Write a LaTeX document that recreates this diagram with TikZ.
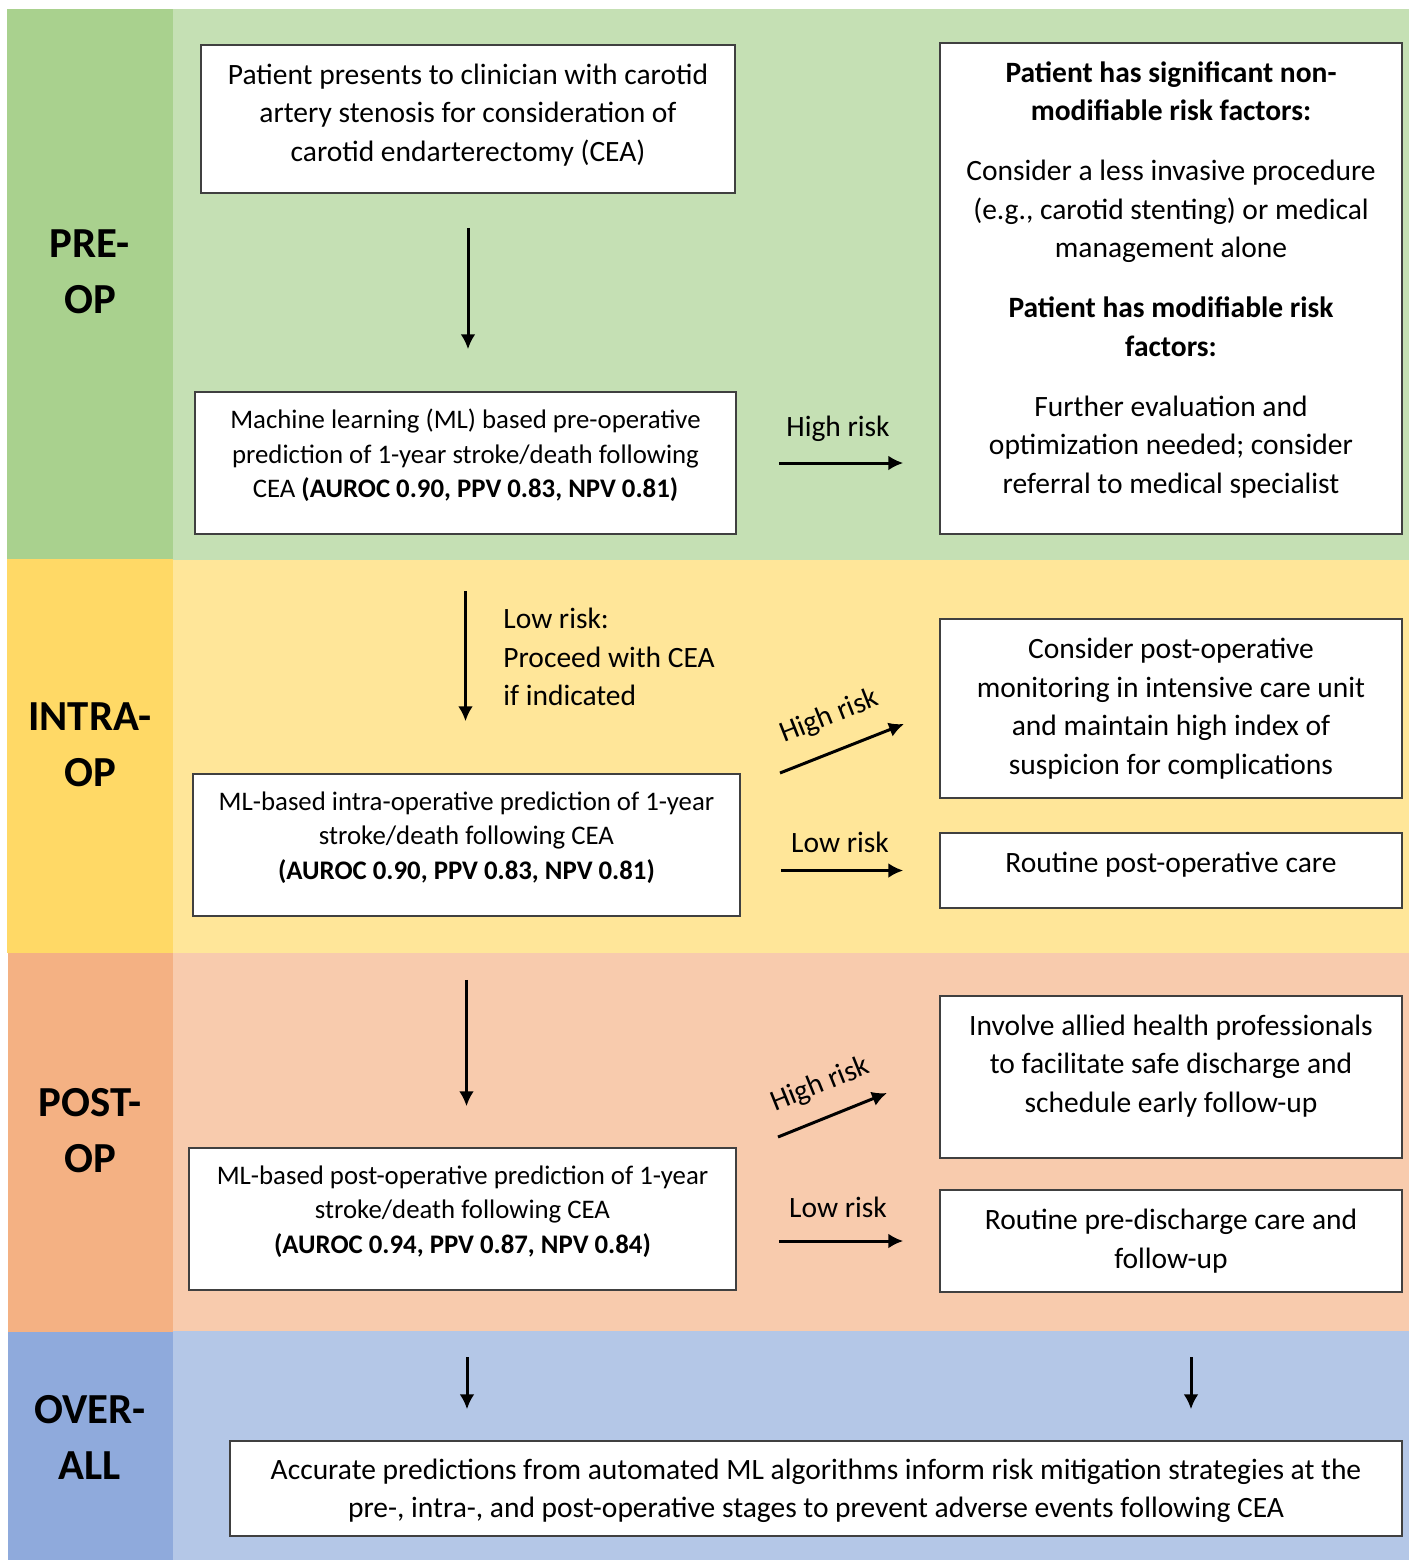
\documentclass[tikz,border=0pt]{standalone}
\usepackage{fontspec}
\setmainfont{Carlito}
\usetikzlibrary{arrows.meta}
\usetikzlibrary{positioning}

\definecolor{preDark}{HTML}{A9D18E}
\definecolor{preLight}{HTML}{C5E0B4}
\definecolor{intraDark}{HTML}{FFD966}
\definecolor{intraLight}{HTML}{FFE699}
\definecolor{postDark}{HTML}{F4B183}
\definecolor{postLight}{HTML}{F8CBAD}
\definecolor{allDark}{HTML}{8FAADC}
\definecolor{allLight}{HTML}{B4C7E7}
\definecolor{boxline}{HTML}{404040}

\tikzset{
  box/.style={draw=boxline, line width=0.75pt, fill=white, align=center, inner sep=0pt,
    font=\fontsize{14.75}{19.25}\selectfont},
  mlbox/.style={box, font=\fontsize{13.4}{17.25}\selectfont},
  stage/.style={align=center, inner sep=0pt, font=\fontsize{21.4}{28}\selectfont\bfseries},
  risk/.style={inner sep=0pt, font=\fontsize{14.75}{19.25}\selectfont},
  flow/.style={-{Latex[length=7.5pt,width=7.5pt]}, line width=1.5pt},
  lift/.style={text depth=#1},
}

\begin{document}
\begin{tikzpicture}[x=0.5pt, y=-0.5pt]
  \useasboundingbox (0,0) rectangle (1409,1560);
  \fill[white] (0,0) rectangle (1409,1560);

  % stage bands
  \fill[preDark] (7,9) rectangle (173,559);
  \fill[preLight] (173,9) rectangle (1409,560);
  \fill[intraDark] (7,559) rectangle (173,953);
  \fill[intraLight] (173,560) rectangle (1409,953);
  \fill[postDark] (8,953) rectangle (173,1332);
  \fill[postLight] (173,953) rectangle (1409,1332);
  \fill[allDark] (8,1332) rectangle (173,1560);
  \fill[allLight] (173,1331) rectangle (1409,1560);

  \node[stage] (preop) at (90,272) {PRE-\\OP};
  \node[stage] (intraop) at (90,745) {INTRA-\\OP};
  \node[stage] (postop) at (90,1131) {POST-\\OP};
  \node[stage] (overall) at (90,1437) {OVER-\\ALL};

  % left column
  \node[box, lift=6.5pt, minimum width=267pt, minimum height=74pt] (present) at (468,119)
    {Patient presents to clinician with carotid\\artery stenosis for consideration of\\carotid endarterectomy (CEA)};
  \node[mlbox, lift=9.5pt, minimum width=270.5pt, minimum height=71pt] (mlpre) at (465.5,463)
    {Machine learning (ML) based pre-operative\\prediction of 1-year stroke/death following\\CEA \textbf{(AUROC 0.90, PPV 0.83, NPV 0.81)}};
  \node[mlbox, lift=9.5pt, minimum width=273.5pt, minimum height=71pt] (mlintra) at (466.5,845)
    {ML-based intra-operative prediction of 1-year\\stroke/death following CEA\\\textbf{(AUROC 0.90, PPV 0.83, NPV 0.81)}};
  \node[mlbox, lift=9.5pt, minimum width=273.5pt, minimum height=71pt] (mlpost) at (462.5,1219)
    {ML-based post-operative prediction of 1-year\\stroke/death following CEA\\\textbf{(AUROC 0.94, PPV 0.87, NPV 0.84)}};

  % right column
  \node[box, lift=11pt, minimum width=231pt, minimum height=245.5pt] (preact) at (1171,288.5)
    {\textbf{Patient has significant non-}\\\textbf{modifiable risk factors:}\\[10.75pt]
     Consider a less invasive procedure\\(e.g., carotid stenting) or medical\\management alone\\[10.75pt]
     \textbf{Patient has modifiable risk}\\\textbf{factors:}\\[10.75pt]
     Further evaluation and\\optimization needed; consider\\referral to medical specialist};
  \node[box, minimum width=231pt, minimum height=89.5pt] (icu) at (1171,708.5)
    {Consider post-operative\\monitoring in intensive care unit\\and maintain high index of\\suspicion for complications};
  \node[box, lift=8.5pt, minimum width=231pt, minimum height=37.5pt] (routineop) at (1171,870.5)
    {Routine post-operative care};
  \node[box, lift=13.5pt, minimum width=231pt, minimum height=81pt] (allied) at (1171,1077)
    {Involve allied health professionals\\to facilitate safe discharge and\\schedule early follow-up};
  \node[box, minimum width=231pt, minimum height=51pt] (routinedis) at (1171,1241)
    {Routine pre-discharge care and\\follow-up};
  \node[box, lift=0.5pt, minimum width=586pt, minimum height=47.5pt] (summary) at (816,1488.5)
    {Accurate predictions from automated ML algorithms inform risk mitigation strategies at the\\pre-, intra-, and post-operative stages to prevent adverse events following CEA};

  % free ends
  \coordinate (ihigh1) at (780,773);
  \coordinate (ihigh2) at (904,724);
  \coordinate (phigh1) at (778,1137);
  \coordinate (phigh2) at (887,1093);
  \coordinate (sum1) at (467,1357);
  \coordinate (sum2) at (1191,1357);

  \draw[flow, shorten <=17pt, shorten >=21pt] (present.south) -- (present.south |- mlpre.north);
  \draw[flow, shorten <=21pt, shorten >=18pt] (mlpre.east) -- (mlpre.east -| preact.west)
    node[risk, midway, above=10pt] (prehigh) {High risk};

  \draw[flow, shorten <=28pt, shorten >=26pt] (mlpre.south) -- (mlpre.south |- mlintra.north);
  \node[risk, align=left, anchor=west] (prelow) at (503,657) {Low risk:\\Proceed with CEA\\if indicated};

  \draw[flow] (ihigh1) -- (ihigh2) node[risk, midway, sloped, above=10pt] (intrahigh) {High risk};
  \draw[flow, shorten <=20pt, shorten >=18pt] (routineop.west -| mlintra.east) -- (routineop.west)
    node[risk, midway, above=8pt] (intralow) {Low risk};

  \draw[flow, shorten <=31.5pt, shorten >=20.5pt] (mlintra.south) -- (mlintra.south |- mlpost.north);

  \draw[flow] (phigh1) -- (phigh2) node[risk, midway, sloped, above=9pt] (posthigh) {High risk};
  \draw[flow, shorten <=21pt, shorten >=18pt] (routinedis.west -| mlpost.east) -- (routinedis.west)
    node[risk, midway, above=11pt] (postlow) {Low risk};

  \draw[flow, shorten >=15.5pt] (sum1) -- (sum1 |- summary.north);
  \draw[flow, shorten >=15.5pt] (sum2) -- (sum2 |- summary.north);
\end{tikzpicture}
\end{document}
